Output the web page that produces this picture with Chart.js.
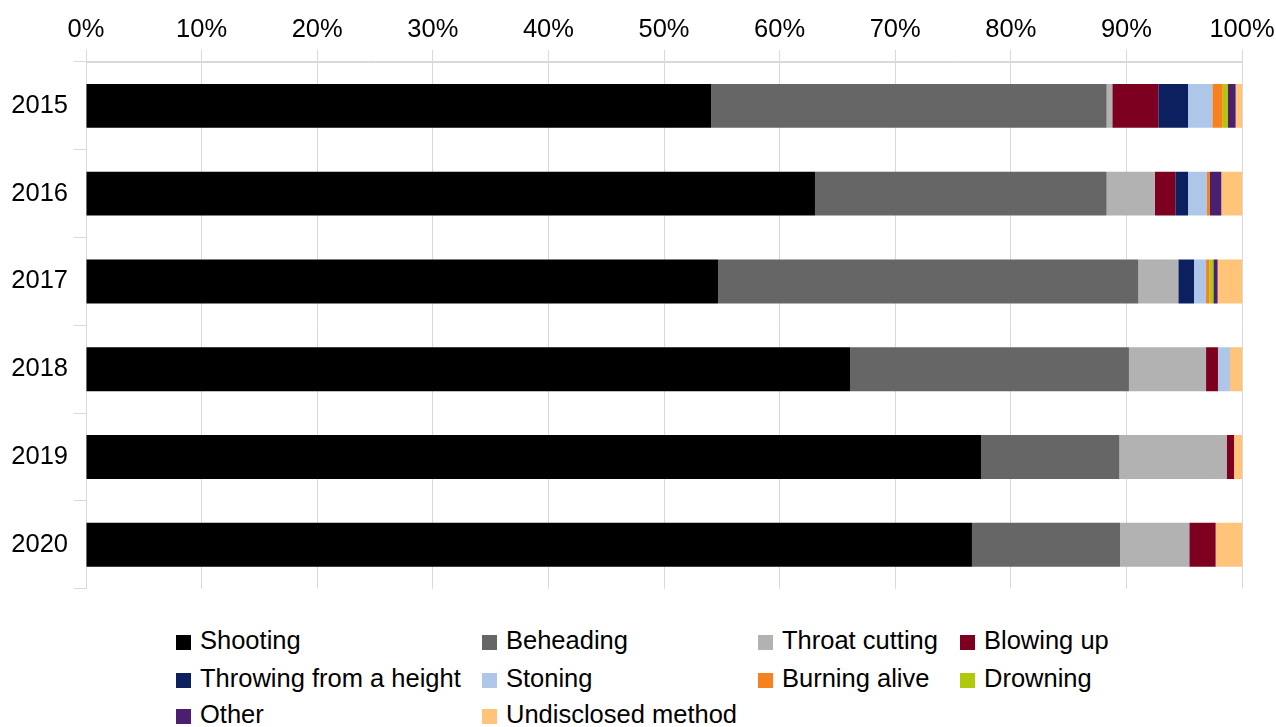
<!DOCTYPE html>
<html>
<head>
<meta charset="utf-8">
<script src="https://cdn.jsdelivr.net/npm/chart.js@4/dist/chart.umd.min.js"></script>
<style>
  body { margin: 0; background: #fff; font-family: "Liberation Sans", Arial, sans-serif; overflow: hidden; }
  #wrap { position: absolute; top: 0; left: 0; width: 1290px; height: 610px; }
  #legend { position: absolute; top: 622px; left: 0; width: 1276px; height: 105px; }
  .item { position: absolute; font-size: 25.5px; line-height: 36px; color: #000; white-space: nowrap; }
  .item span { display: inline-block; width: 15px; height: 15px; margin-right: 9px; vertical-align: -1px; }
</style>
</head>
<body>
<div id="wrap"><canvas id="myChart" width="1290" height="610"></canvas></div>
<div id="legend"></div>
<script>
const years = ["2015", "2016", "2017", "2018", "2019", "2020"];
const methods = ["Shooting", "Beheading", "Throat cutting", "Blowing up", "Throwing from a height",
  "Stoning", "Burning alive", "Drowning", "Other", "Undisclosed method"];
const colors = ["#000000", "#666666", "#b2b2b2", "#7e0021", "#0c1f5e",
  "#aec7e8", "#f5821f", "#b1c90b", "#4b1f6f", "#ffc47a"];

// percent of executions per year, one array per method
const shooting     = [54.07, 63.06, 54.67, 66.09, 77.42, 76.64];
const beheading    = [34.22, 25.23, 36.36, 24.13, 11.97, 12.81];
const throat       = [0.49, 4.18, 3.46, 6.67, 9.28, 5.99];
const blowingUp    = [3.98, 1.76, 0, 1.03, 0.64, 2.28];
const throwing     = [2.57, 1.10, 1.36, 0, 0, 0];
const stoning      = [2.10, 1.64, 1.04, 1.04, 0, 0];
const burning      = [0.90, 0.26, 0.28, 0, 0, 0];
const drowning     = [0.46, 0, 0.35, 0, 0, 0];
const other        = [0.66, 0.98, 0.37, 0, 0, 0];
const undisclosed  = [0.55, 1.79, 2.11, 1.04, 0.69, 2.28];

const tickLabels = ["0%", "10%", "20%", "30%", "40%", "50%", "60%", "70%", "80%", "90%", "100%"];

const series = [shooting, beheading, throat, blowingUp, throwing, stoning, burning, drowning, other, undisclosed];

const gridColor = "#d9d9d9";
const tickFont = { family: "Liberation Sans", size: 25.5 };

var myChart = new Chart(document.getElementById("myChart"), {
  type: 'bar',
  data: {
    labels: years,
    datasets: series.map((vals, i) => ({
      label: methods[i],
      data: vals,
      backgroundColor: colors[i],
      borderWidth: 0,
      categoryPercentage: 1,
      barPercentage: 0.5
    }))
  },
  options: {
    indexAxis: 'y',
    responsive: false,
    animation: false,
    layout: { padding: { right: 48, bottom: 11, left: 0, top: 0 } },
    plugins: { legend: { display: false }, tooltip: { enabled: false } },
    scales: {
      x: {
        position: 'top',
        stacked: true,
        min: 0,
        max: 100,
        ticks: {
          stepSize: 10,
          padding: 5,
          color: "#000",
          font: tickFont,
          callback: (v, i) => tickLabels[i]
        },
        grid: { color: gridColor, tickLength: 12, lineWidth: 1 },
        border: { color: gridColor },
        afterFit: (axis) => { axis.height = 62; }
      },
      y: {
        stacked: true,
        ticks: {
          padding: 6,
          color: "#000",
          font: tickFont
        },
        grid: {
          offset: true,
          tickLength: 12,
          tickColor: gridColor,
          color: (ctx) => (ctx.index === 0 || ctx.index === years.length) ? gridColor : 'rgba(0,0,0,0)'
        },
        border: { color: gridColor },
        afterFit: (axis) => { axis.width = 86; }
      }
    }
  }
});

// legend laid out in a 4-column grid like the original
const colX = [176, 482, 758, 960];
const rowY = [0, 38, 74];
const legend = document.getElementById("legend");
methods.forEach((m, i) => {
  const div = document.createElement("div");
  div.className = "item";
  div.style.left = colX[i % 4] + "px";
  div.style.top = rowY[Math.floor(i / 4)] + "px";
  const box = document.createElement("span");
  box.style.background = colors[i];
  div.appendChild(box);
  div.appendChild(document.createTextNode(m));
  legend.appendChild(div);
});
</script>
</body>
</html>
